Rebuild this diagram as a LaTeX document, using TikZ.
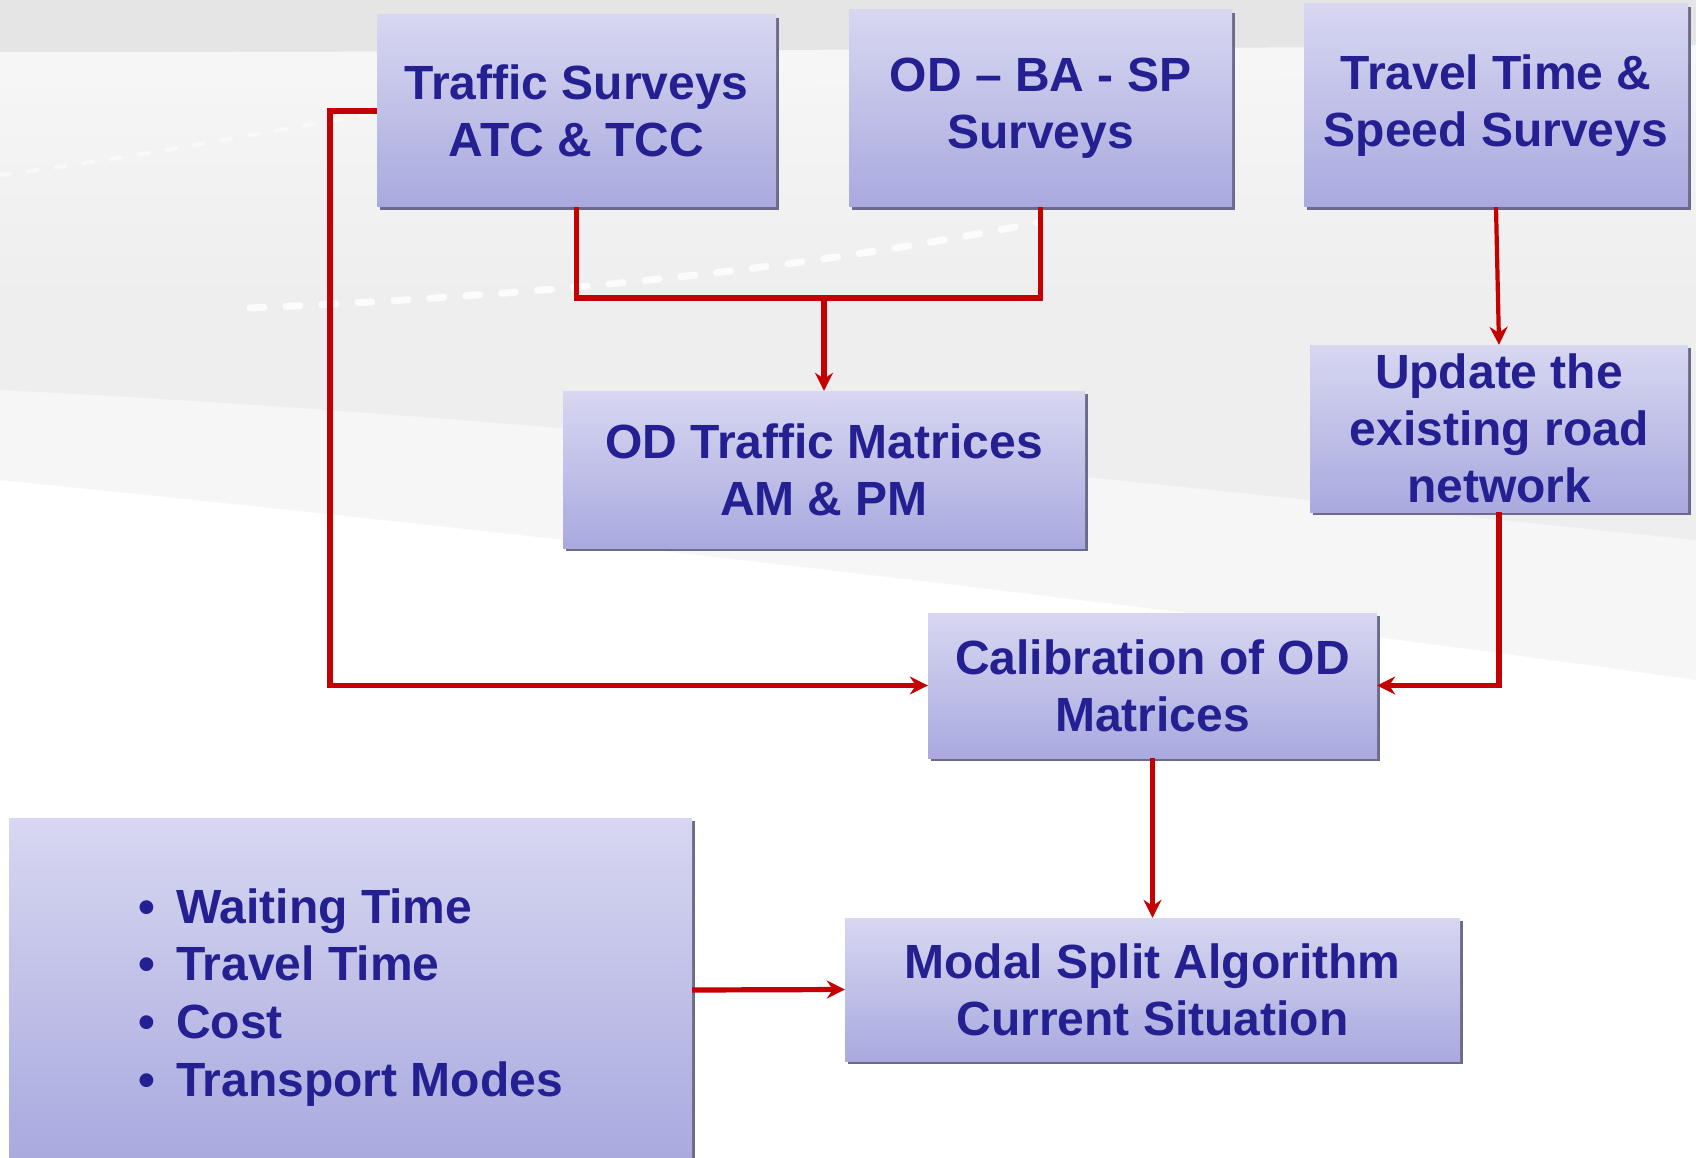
\documentclass[tikz,border=0pt]{standalone}
\usepackage{fontspec}
\setmainfont{Liberation Sans}
\usetikzlibrary{arrows.meta,shadows}

\definecolor{boxtop}{RGB}{215,215,241}
\definecolor{boxbot}{RGB}{169,169,223}
\definecolor{boxshadow}{RGB}{106,106,138}
\definecolor{textblue}{RGB}{36,32,146}
\definecolor{linkred}{RGB}{196,0,0}
\definecolor{bandgrey}{RGB}{229,229,229}
\definecolor{hazegrey}{RGB}{238,238,238}
\definecolor{palegrey}{RGB}{246,246,246}

\tikzset{
  flowbox/.style={rectangle, top color=boxtop, bottom color=boxbot, draw=none,
    inner sep=0pt, align=center, text=textblue,
    font=\fontsize{48}{57}\selectfont\bfseries,
    drop shadow={shadow xshift=3pt, shadow yshift=-3pt, fill=boxshadow, opacity=1}},
  bulletline/.style={anchor=base west, inner sep=0pt, text=textblue,
    font=\fontsize{48}{57}\selectfont\bfseries},
  link/.style={draw=linkred, line width=5.2pt},
  arrowlink/.style={link, -{Stealth[length=18pt, width=18pt, inset=6pt]}}
}

\begin{document}
\begin{tikzpicture}[x=1pt, y=-1pt]
  % page and soft background
  \useasboundingbox (0,0) rectangle (1696,1158);
  \clip (0,0) rectangle (1696,1158);
  \fill[white] (0,0) rectangle (1696,1158);
  % pale haze over the upper half
  \fill[palegrey] (0,0) -- (1696,0) -- (1696,680)
    .. controls (1200,610) and (500,530) .. (0,480) -- cycle;
  % slightly darker sweep through the middle
  \shade[top color=palegrey, bottom color=hazegrey, middle color=hazegrey]
    (0,90) .. controls (500,80) and (1000,100) .. (1696,60)
    -- (1696,540) .. controls (1200,490) and (600,420) .. (0,390) -- cycle;
  % grey band along the top edge
  \fill[bandgrey] (0,0) -- (1696,0) -- (1696,45)
    .. controls (1200,48) and (500,52) .. (0,52) -- cycle;
  % dotted light streaks
  \draw[white, line width=7pt, line cap=round, dash pattern=on 14pt off 22pt, opacity=0.85]
    (250,308) .. controls (550,295) and (800,270) .. (1040,222);
  \draw[white, line width=4pt, line cap=round, dash pattern=on 10pt off 18pt, opacity=0.5]
    (0,175) .. controls (120,160) and (250,135) .. (380,112);

  % boxes
  \node[flowbox, minimum width=399pt, minimum height=192pt] (b1) at (576.5,111)
    {Traffic Surveys\\ATC \& TCC};
  \node[flowbox, minimum width=383pt, minimum height=197pt] (b2) at (1040.5,108.5)
    {OD -- BA - SP\\Surveys};
  \node[flowbox, minimum width=384pt, minimum height=203pt] (b3) at (1496,105.5)
    {Travel Time \&\\Speed Surveys};
  \node[flowbox, minimum width=522pt, minimum height=157pt] (b4) at (824,469.5)
    {OD Traffic Matrices\\AM \& PM};
  \node[flowbox, minimum width=378pt, minimum height=167pt] (b5) at (1499,428.5)
    {Update the\\existing road\\network};
  \node[flowbox, minimum width=449pt, minimum height=145pt] (b6) at (1152.5,685.5)
    {Calibration of OD\\Matrices};
  \node[flowbox, minimum width=615pt, minimum height=143pt] (b7) at (1152.5,989.5)
    {Modal Split Algorithm\\Current Situation};
  \node[flowbox, minimum width=683pt, minimum height=344pt] (b8) at (350.5,990) {};

  % factor list
  \node[bulletline] (f1) at (138,923) {\makebox[38pt][l]{•}Waiting Time};
  \node[bulletline] (f2) at (138,980) {\makebox[38pt][l]{•}Travel Time};
  \node[bulletline] (f3) at (138,1038) {\makebox[38pt][l]{•}Cost};
  \node[bulletline] (f4) at (138,1096) {\makebox[38pt][l]{•}Transport Modes};

  % connectors
  \coordinate (jn) at (824,298);
  \coordinate (lk) at (330,685.5);
  \draw[link] (b1.south) |- (b2.south |- jn) -- (b2.south);
  \draw[arrowlink] (jn) -- (b4.north);
  \draw[arrowlink] (b1.west) -| (lk) -- (b6.west);
  \draw[arrowlink, line width=4.2pt] (b3.south) -- (b5.north);
  \draw[arrowlink] (b5.south) |- (b6.east);
  \draw[arrowlink] (b6.south) -- (b7.north);
  \draw[arrowlink] (b8.east) -- (b7.west);
\end{tikzpicture}
\end{document}
